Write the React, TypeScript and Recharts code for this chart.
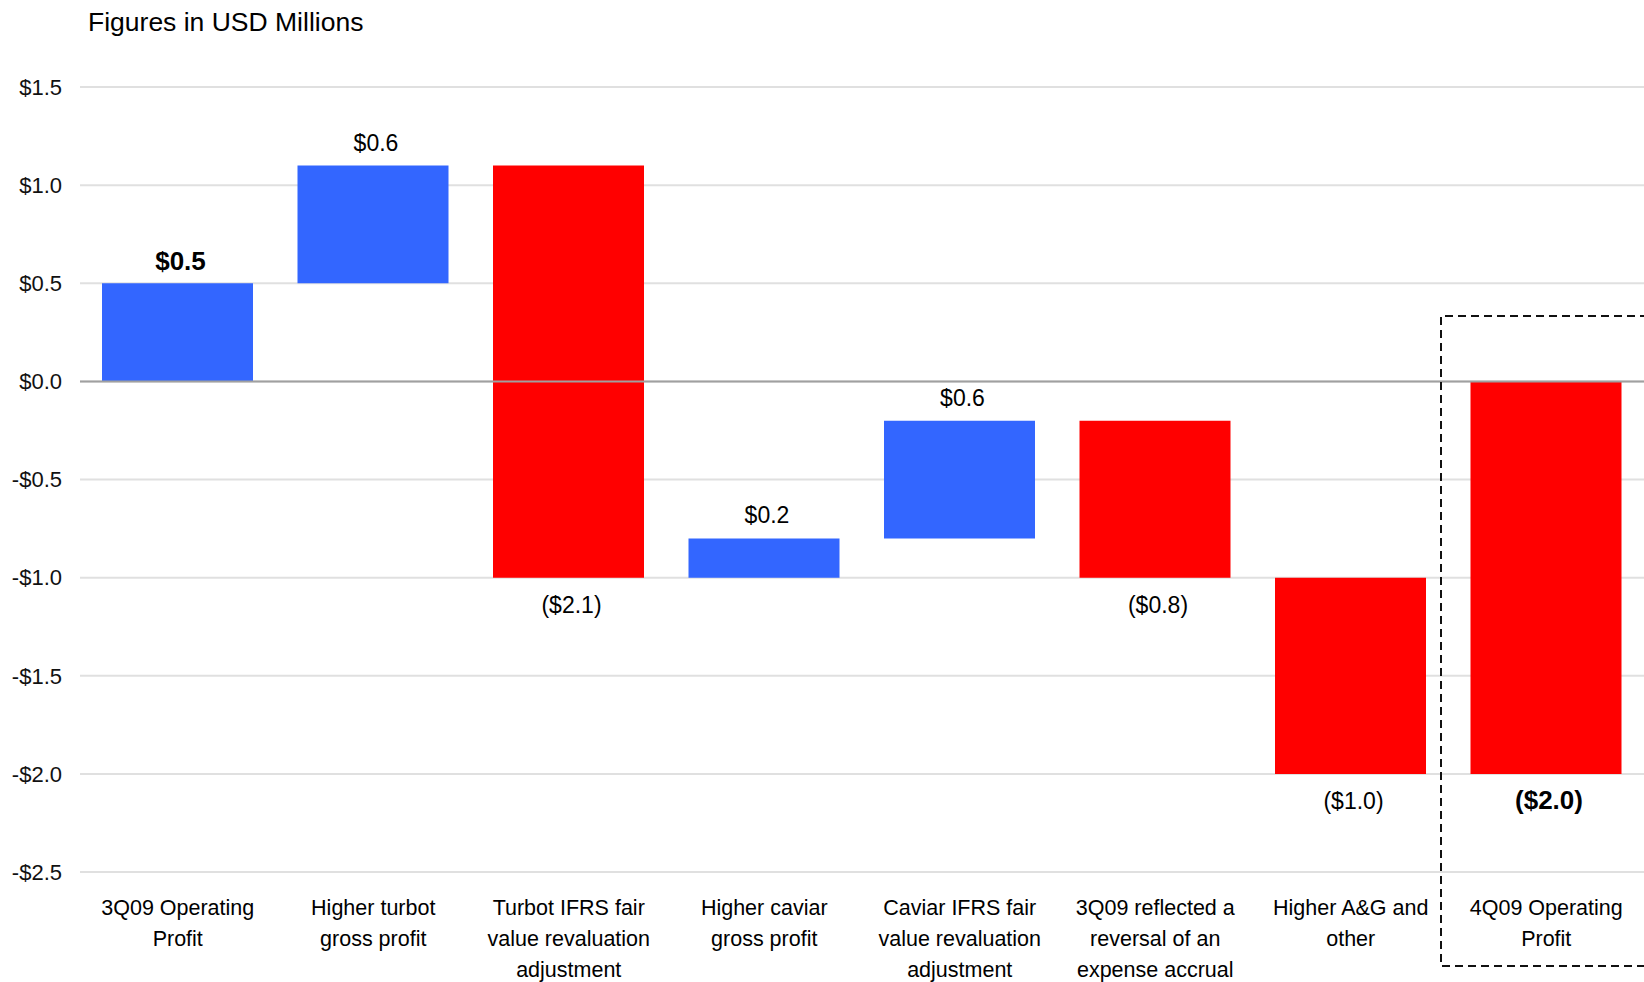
import { Bar, BarChart, CartesianGrid, Cell, LabelList, ReferenceLine, XAxis, YAxis } from 'recharts';

const FONT = '"Liberation Sans", Arial, sans-serif';
const BLUE = '#3366ff';
const RED = '#ff0000';

const categories = [
  '3Q09 Operating\nProfit',
  'Higher turbot\ngross profit',
  'Turbot IFRS fair\nvalue revaluation\nadjustment',
  'Higher caviar\ngross profit',
  'Caviar IFRS fair\nvalue revaluation\nadjustment',
  '3Q09 reflected a\nreversal of an\nexpense accrual',
  'Higher A&G and\nother',
  '4Q09 Operating\nProfit',
];

// change per step, USD millions; the first and last entries are totals
const changes = [0.5, 0.6, -2.1, 0.2, 0.6, -0.8, -1.0, -2.0];
const isTotal = [true, false, false, false, false, false, false, true];

const yTicks = [1.5, 1.0, 0.5, 0, -0.5, -1.0, -1.5, -2.0, -2.5];

type Row = { name: string; change: number; total: boolean; range: [number, number] };

function buildRows(): Row[] {
  let running = 0;
  return categories.map((name, i) => {
    const change = changes[i];
    let from = running;
    let to = running + change;
    if (isTotal[i]) {
      from = 0;
      to = change;
    }
    running = to;
    return { name, change, total: isTotal[i], range: [Math.min(from, to), Math.max(from, to)] };
  });
}

const rows = buildRows();

const money = (v: number) => (v < 0 ? `($${Math.abs(v).toFixed(1)})` : `$${v.toFixed(1)}`);
const tickMoney = (v: number) => (v < 0 ? `-$${Math.abs(v).toFixed(1)}` : `$${v.toFixed(1)}`);

function ValueLabel(props: any) {
  const { x, y, width, height, index } = props;
  const row = rows[index];
  if (!row) return null;
  const top = Math.min(y, y + height);
  const bottom = Math.max(y, y + height);
  const bold = row.total;
  const ty = row.change >= 0 ? top - (bold ? 13 : 15) : bottom + 35;
  return (
    <text
      x={x + width / 2 + 3}
      y={ty}
      textAnchor="middle"
      fontFamily={FONT}
      fontSize={bold ? 26 : 23}
      fontWeight={bold ? 700 : 400}
      fill="#000"
    >
      {money(row.change)}
    </text>
  );
}

function CategoryTick(props: any) {
  const { x, y, payload } = props;
  const lines = String(payload.value).split('\n');
  return (
    <text x={x} y={y} textAnchor="middle" fontFamily={FONT} fontSize={21.5} fill="#000">
      {lines.map((line, i) => (
        <tspan key={i} x={x} dy={i === 0 ? 43 : 31}>
          {line}
        </tspan>
      ))}
    </text>
  );
}

export default function App() {
  return (
    <div style={{ position: 'relative', width: 1644, height: 982, background: '#fff' }}>
      <style>{'body{margin:0}'}</style>
      <BarChart width={1644} height={982} data={rows} margin={{ top: 87, right: 0, bottom: 0, left: 0 }}>
        <CartesianGrid vertical={false} stroke="#e0e0e0" strokeWidth={2} />
        <XAxis
          dataKey="name"
          height={110}
          axisLine={false}
          tickLine={false}
          tickSize={0}
          tickMargin={0}
          interval={0}
          tick={<CategoryTick />}
        />
        <YAxis
          width={80}
          domain={[-2.5, 1.5]}
          ticks={yTicks}
          axisLine={false}
          tickLine={false}
          tickSize={0}
          tickMargin={18}
          tickFormatter={tickMoney}
          tick={{ fontFamily: FONT, fontSize: 22, fill: '#111' }}
        />
        <Bar dataKey="range" barSize={151} isAnimationActive={false}>
          {rows.map((r) => (
            <Cell key={r.name} fill={r.change >= 0 ? BLUE : RED} />
          ))}
          <LabelList dataKey="range" content={<ValueLabel />} />
        </Bar>
        <ReferenceLine y={0} stroke="#a0a0a0" strokeWidth={2} />
      </BarChart>
      <svg
        width={1644}
        height={982}
        style={{ position: 'absolute', left: 0, top: 0, pointerEvents: 'none' }}
      >
        <text x={88} y={31} fontFamily={FONT} fontSize={26.5} fill="#000">
          Figures in USD Millions
        </text>
        <path d="M 1700 316 H 1441 V 966 H 1700" fill="none" stroke="#111" strokeWidth={2} strokeDasharray="8 5" />
      </svg>
    </div>
  );
}
